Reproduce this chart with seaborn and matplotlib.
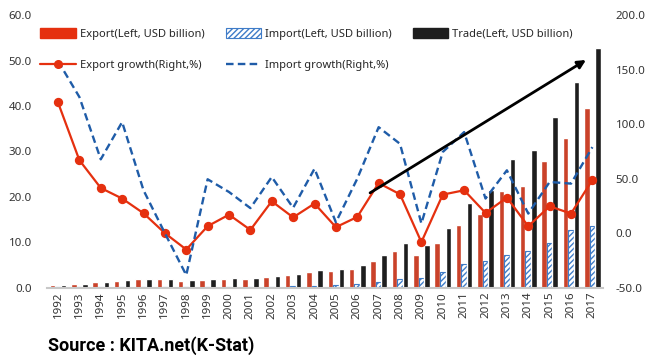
import numpy as np
import pandas as pd
import matplotlib
matplotlib.use("Agg")
import matplotlib.pyplot as plt
from matplotlib.patches import Patch
from matplotlib.lines import Line2D
import seaborn as sns

years = [str(y) for y in range(1992, 2018)]
export = [0.5, 0.8, 1.2, 1.5, 1.8, 1.8, 1.5, 1.6, 2.0, 1.9, 2.4, 2.7, 3.4,
          3.6, 4.1, 5.9, 8.0, 7.3, 9.8, 13.7, 16.2, 21.4, 22.5, 28.0, 33.0, 39.6]
imports = [0.1, 0.1, 0.1, 0.1, 0.2, 0.1, 0.2, 0.2, 0.2, 0.2, 0.2, 0.3, 0.4,
           0.5, 0.8, 1.3, 1.8, 2.2, 3.4, 5.2, 5.8, 7.3, 8.1, 9.8, 12.6, 13.5]
trade = [0.6, 0.9, 1.3, 1.6, 2.0, 1.9, 1.7, 1.8, 2.2, 2.1, 2.6, 3.0, 3.8,
         4.1, 4.9, 7.2, 9.8, 9.5, 13.1, 18.7, 21.6, 28.3, 30.4, 37.7, 45.2, 52.8]
export_growth = [120, 67, 41.5, 31.8, 18.3, 0, -15, 6.4, 17, 3, 29.3, 14.5, 27.2,
                 5.5, 14.9, 46, 35.7, -8.2, 35.4, 39.4, 18.6, 32.7, 6.4, 24.7, 18, 48.8]
import_growth = [158, 125, 67.8, 102, 39.4, 0, -38.5, 49.5, 37.8, 23, 51.6, 23.3, 59.2,
                 10, 50, 97.3, 82, 8.9, 74.5, 92.8, 31.8, 57.7, 18, 47, 45.5, 79]

series = ["Export", "Import", "Trade"]
labels = ["Export(Left, USD billion)", "Import(Left, USD billion)", "Trade(Left, USD billion)",
          "Export growth(Right,%)", "Import growth(Right,%)"]

RED = "#E5300F"
BLUE = "#1F5CA8"
HATCH_BLUE = "#3F7CC8"
DARK = "#1E1E1E"

df = pd.DataFrame({
    "year": years * 3,
    "series": [s for s in series for _ in years],
    "value": export + imports + trade,
})

sns.set_style("white")
plt.rcParams["font.family"] = ["Noto Sans", "DejaVu Sans"]
plt.rcParams["hatch.linewidth"] = 1.0

fig = plt.figure(figsize=(6.5, 3.56), dpi=100)
ax = fig.add_axes([0.0728, 0.192, 0.855, 0.765])

sns.barplot(data=df, x="year", y="value", hue="series", hue_order=series,
            palette=[RED, "white", DARK], width=0.78, legend=False, ax=ax)
for p in ax.containers[1]:
    p.set_facecolor("white")
    p.set_edgecolor(HATCH_BLUE)
    p.set_hatch("//////")
    p.set_linewidth(0.8)

ax.set_ylim(0, 60)
ax.set_yticks(np.arange(0, 61, 10))
ax.set_yticklabels([f"{v:.1f}" for v in np.arange(0, 61, 10)])
ax.set_xlim(-0.5, len(years) - 0.5)
ax.set_xlabel("")
ax.set_ylabel("")
ax.tick_params(axis="x", rotation=90, length=0, pad=3, labelsize=8.3, colors="#333333")
ax.tick_params(axis="y", length=0, pad=11, labelsize=8.3, colors="#333333")
for s in ["top", "right", "left"]:
    ax.spines[s].set_visible(False)
ax.spines["bottom"].set_color("#C8C8C8")
ax.spines["bottom"].set_linewidth(1.5)

ax2 = ax.twinx()
sns.pointplot(x=years, y=export_growth, color=RED, linewidth=1.6, markersize=5.5,
              errorbar=None, ax=ax2)
sns.pointplot(x=years, y=import_growth, color=BLUE, linewidth=1.7, marker="",
              linestyle=(0, (3.2, 1.8)), errorbar=None, ax=ax2)
ax2.set_ylim(-50, 200)
ax2.set_yticks(np.arange(-50, 201, 50))
ax2.set_yticklabels([f"{v:.1f}" for v in np.arange(-50, 201, 50)])
ax2.set_xlim(-0.5, len(years) - 0.5)
ax2.set_ylabel("")
ax2.tick_params(axis="y", length=0, pad=9, labelsize=8.3, colors="#333333")
for s in ax2.spines.values():
    s.set_visible(False)

# trend arrow (right-axis coordinates)
ax2.annotate("", xy=(24.7, 159), xytext=(14.6, 37),
             arrowprops=dict(arrowstyle="-|>", color="black", lw=2, mutation_scale=12,
                             shrinkA=0, shrinkB=0), zorder=10)

handles = [
    Patch(facecolor=RED, edgecolor=RED),
    Line2D([], [], color=RED, lw=1.6, marker="o", markersize=5.5),
    Patch(facecolor="white", edgecolor=HATCH_BLUE, hatch="//////", linewidth=0.8),
    Line2D([], [], color=BLUE, lw=1.7, linestyle=(0, (3.2, 1.8))),
    Patch(facecolor=DARK, edgecolor=DARK),
]
leg_labels = [labels[0], labels[3], labels[1], labels[4], labels[2]]
fig.legend(handles, leg_labels, ncol=3, loc="upper left", bbox_to_anchor=(0.062, 0.92),
           frameon=False, fontsize=8, handlelength=3.2, handleheight=0.9, handletextpad=0.35,
           columnspacing=1.9, labelspacing=1.75, borderpad=0, borderaxespad=0)

fig.text(0.074, 0.015, "Source : KITA.net(K-Stat)", fontsize=13, fontweight="bold",
         family=["Roboto", "DejaVu Sans"], color="black")

fig.savefig("out.png", dpi=100)
